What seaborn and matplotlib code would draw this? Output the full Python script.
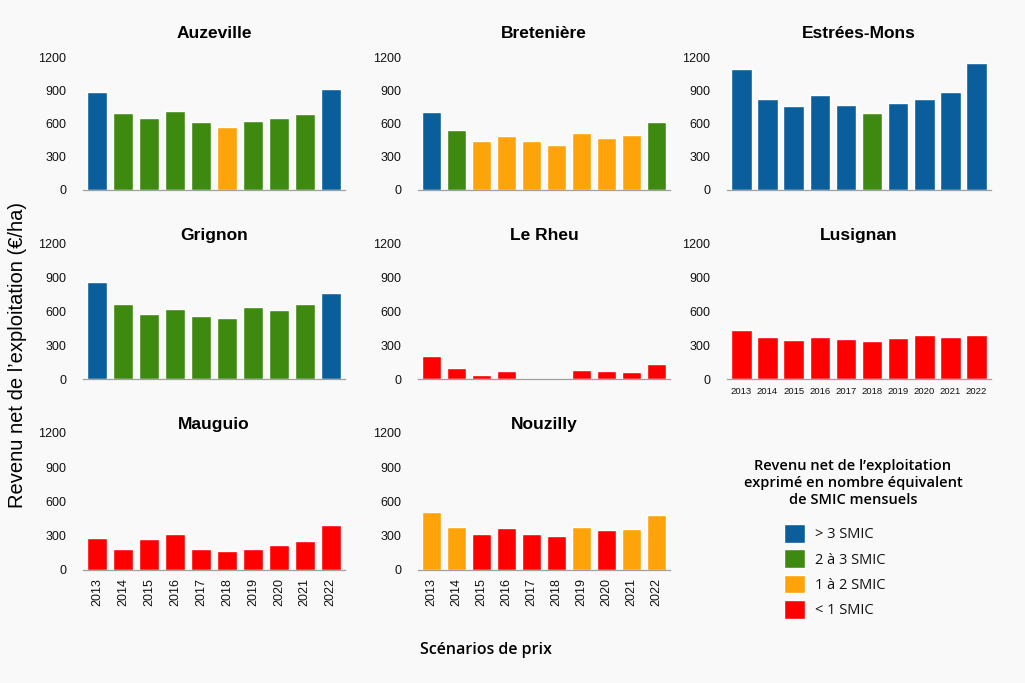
import numpy as np
import pandas as pd
import seaborn as sns
import matplotlib.pyplot as plt
from matplotlib.patches import Patch

# years (price scenarios)
years = ['2013', '2014', '2015', '2016', '2017', '2018', '2019', '2020', '2021', '2022']

auzeville = [885, 696, 651, 717, 612, 564, 624, 654, 687, 915]
auzeville_cls = ['g3', 'g2', 'g2', 'g2', 'g2', 'g1', 'g2', 'g2', 'g2', 'g3']

bretenière = [708, 543, 444, 483, 441, 408, 513, 471, 498, 612]
bretenière_cls = ['g3', 'g2', 'g1', 'g1', 'g1', 'g1', 'g1', 'g1', 'g1', 'g2']

estrees = [1095, 825, 756, 861, 771, 699, 789, 822, 882, 1149]
estrees_cls = ['g3', 'g3', 'g3', 'g3', 'g3', 'g2', 'g3', 'g3', 'g3', 'g3']

grignon = [862, 670, 578, 622, 563, 539, 643, 613, 667, 764]
grignon_cls = ['g3', 'g2', 'g2', 'g2', 'g2', 'g2', 'g2', 'g2', 'g2', 'g3']

lerheu = [204, 101, 36, 71, 0, 0, 83, 71, 62, 136]
lerheu_cls = ['g0'] * 10

lusignan = [435, 373, 350, 376, 359, 338, 367, 391, 370, 391]
lusignan_cls = ['g0'] * 10

mauguio = [283, 186, 268, 315, 186, 163, 186, 221, 253, 396]
mauguio_cls = ['g0'] * 10

nouzilly = [507, 379, 315, 364, 315, 294, 373, 347, 358, 481]
nouzilly_cls = ['g1', 'g1', 'g0', 'g0', 'g0', 'g0', 'g1', 'g0', 'g1', 'g1']

class_labels = {'g3': '> 3 SMIC', 'g2': '2 à 3 SMIC', 'g1': '1 à 2 SMIC', 'g0': '< 1 SMIC'}
palette = {'g3': '#0A5E9C', 'g2': '#3E8A10', 'g1': '#FFA30A', 'g0': '#FF0000'}

sites = [
    ('Auzeville', auzeville, auzeville_cls),
    ('Bretenière', bretenière, bretenière_cls),
    ('Estrées-Mons', estrees, estrees_cls),
    ('Grignon', grignon, grignon_cls),
    ('Le Rheu', lerheu, lerheu_cls),
    ('Lusignan', lusignan, lusignan_cls),
    ('Mauguio', mauguio, mauguio_cls),
    ('Nouzilly', nouzilly, nouzilly_cls),
]

sns.set_style('white')
plt.rcParams['font.family'] = ['Liberation Sans', 'DejaVu Sans']
for k in ['text.color', 'axes.labelcolor', 'xtick.color', 'ytick.color']:
    plt.rcParams[k] = '#111111'

bg = '#F9F9F9'
fig = plt.figure(figsize=(10.25, 6.83), dpi=100, facecolor=bg)

# axes boxes in pixels: (left, right) per column, (top, bottom) per row
cols = [(83, 345), (418, 670), (727, 991)]
rows = [(57, 190), (244, 379), (433, 570)]
title_pad = [14, 3, 3]
W, H = 1025, 683

for i, (name, vals, cls) in enumerate(sites):
    r, c = divmod(i, 3)
    x0, x1 = cols[c]
    y0, y1 = rows[r]
    ax = fig.add_axes([x0 / W, 1 - y1 / H, (x1 - x0) / W, (y1 - y0) / H])
    ax.set_facecolor(bg)
    df = pd.DataFrame({'year': years, 'value': vals, 'cls': cls})
    sns.barplot(data=df, x='year', y='value', hue='cls', palette=palette,
                dodge=False, width=0.78, legend=False, ax=ax, order=years,
                saturation=1)
    ax.set_ylim(0, 1200)
    ax.set_xlim(-0.55, 9.55)
    ax.set_yticks([0, 300, 600, 900, 1200])
    ax.tick_params(axis='y', length=0, pad=12, labelsize=9)
    ax.set_xlabel('')
    ax.set_ylabel('')
    for s in ['top', 'right', 'left']:
        ax.spines[s].set_visible(False)
    ax.spines['bottom'].set_color('#A0A0A0')
    ax.spines['bottom'].set_linewidth(0.9)
    ax.set_title(name, fontsize=12.5, fontweight='bold', pad=title_pad[r], color='black')
    if name in ('Mauguio', 'Nouzilly'):
        ax.tick_params(axis='x', length=0, pad=6, labelsize=9, labelrotation=90)
    elif name == 'Lusignan':
        ax.tick_params(axis='x', length=0, pad=6, labelsize=6.8)
    else:
        ax.set_xticklabels([])
        ax.tick_params(axis='x', length=0)

fig.text(18 / W, 1 - 355 / H, 'Revenu net de l\u2019exploitation (\u20ac/ha)',
         rotation=90, ha='center', va='center', fontsize=14.5, color='black')
fig.text(486 / W, 1 - 650 / H, 'Scénarios de prix', ha='center', va='center',
         fontsize=11.5, fontweight='semibold', family=['Open Sans', 'DejaVu Sans'],
         color='black')

# legend: title as its own text, entries below it
fig.text(853 / W, 1 - 483 / H,
         'Revenu net de l\u2019exploitation\nexprimé en nombre équivalent\nde SMIC mensuels',
         ha='center', va='center', multialignment='center', linespacing=1.25,
         fontsize=10.5, fontweight='semibold', family=['Open Sans', 'DejaVu Sans'],
         color='black')
handles = [Patch(facecolor=palette[k], label=class_labels[k]) for k in ['g3', 'g2', 'g1', 'g0']]
fig.legend(handles=handles, loc='upper left', bbox_to_anchor=(771 / W, 1 - 511 / H),
           frameon=False, handlelength=1.4, handleheight=1.6,
           labelspacing=0.45, handletextpad=0.7,
           prop={'family': ['Open Sans', 'DejaVu Sans'], 'size': 10.5})

fig.savefig('out.png', dpi=100, facecolor=bg)
